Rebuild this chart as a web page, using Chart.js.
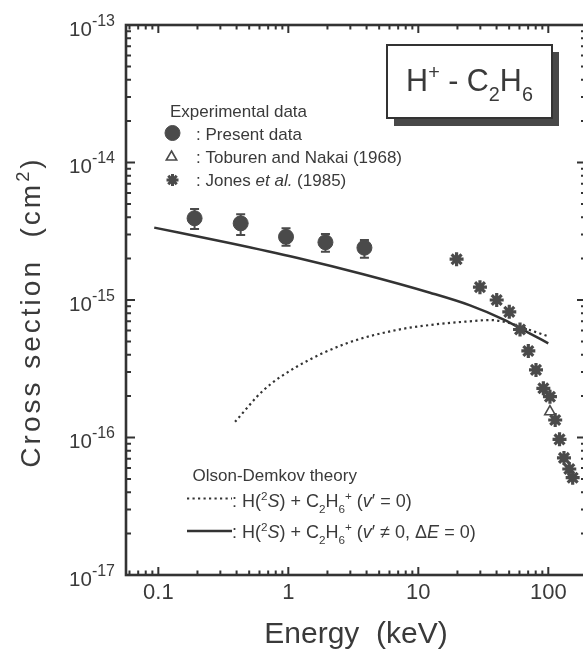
<!DOCTYPE html>
<html>
<head>
<meta charset="utf-8">
<script src="https://cdn.jsdelivr.net/npm/chart.js@4.4.1/dist/chart.umd.min.js"></script>
<style>
  html, body { margin: 0; padding: 0; background: #fff; overflow: hidden; }
  /* el marco derecho queda fuera del recorte, como en la figura escaneada */
  #wrap { position: relative; width: 583px; height: 653px; overflow: hidden; }
  canvas { display: block; position: absolute; left: 0; top: 0; }
</style>
</head>
<body>
<div id="wrap"><canvas id="c" width="590" height="653"></canvas></div>
<script>
// --- datos ---------------------------------------------------------------
// Present data (círculos con barras de error)
const presentE  = [0.19, 0.43, 0.96, 1.93, 3.85];
const presentCS = [3.93e-15, 3.61e-15, 2.88e-15, 2.63e-15, 2.40e-15];
const presentHi = [4.59e-15, 4.20e-15, 3.32e-15, 3.02e-15, 2.73e-15];
const presentLo = [3.28e-15, 2.97e-15, 2.48e-15, 2.24e-15, 2.03e-15];

// Toburen and Nakai (1968)
const toburenE  = [103];
const toburenCS = [1.54e-16];

// Jones et al. (1985)
const jonesE  = [19.7, 29.8, 40.1, 50.1, 60.6, 70.2, 80.4, 91.6, 103, 113, 122, 132, 145, 154];
const jonesCS = [1.98e-15, 1.24e-15, 1.0e-15, 8.2e-16, 6.1e-16, 4.26e-16, 3.1e-16, 2.28e-16,
                 1.98e-16, 1.34e-16, 9.7e-17, 7.1e-17, 5.9e-17, 5.1e-17];

// Olson-Demkov, v' = 0 (punteada)
const odV0E  = [0.389, 0.645, 1.16, 2.81, 6.81, 12.3, 24.9, 35.6, 50, 72, 100];
const odV0CS = [1.30e-16, 2.21e-16, 3.27e-16, 4.84e-16, 6.05e-16, 6.58e-16, 7.0e-16, 7.15e-16,
                6.8e-16, 6.05e-16, 5.45e-16];

// Olson-Demkov, v' != 0, dE = 0 (continua)
const odVnE  = [0.093, 0.36, 1.16, 3.77, 12.3, 25, 45, 70, 100];
const odVnCS = [3.36e-15, 2.59e-15, 2.03e-15, 1.54e-15, 1.13e-15, 9.14e-16, 7.23e-16, 5.8e-16, 4.84e-16];

// ejes
const xTicks = [0.1, 1, 10, 100];
const yDecades = [-17, -16, -15, -14, -13];
const xMin = 0.0564, xMax = 195;
const yMin = 1e-17, yMax = 1e-13;

// --- estilo ----------------------------------------------------------------
const FAM = '"Liberation Sans", Arial, sans-serif';
const TXT = '#3a3a3a';
const INK = '#333';
const MARK = '#4a4a4a';
const DOTS = [2.2, 3.3];

const pts = (xs, ys) => xs.map((x, i) => ({ x, y: ys[i] }));
const fuente = (size, italic) => `${italic ? 'italic ' : ''}${size}px ${FAM}`;

// Texto con sub/superíndices: parts = [[texto, modo]], modo con 'sup' | 'sub' | 'i'
function textoRico(ctx, x, y, parts, size, align = 'left') {
  const piezas = parts.map(([t, m = '']) => {
    const small = m.includes('sup') || m.includes('sub');
    const s = small ? size * 0.65 : size;
    const dy = m.includes('sup') ? -size * 0.4 : m.includes('sub') ? size * 0.32 : 0;
    const f = fuente(s, m.includes('i'));
    ctx.font = f;
    return { t, f, dy, w: ctx.measureText(t).width };
  });
  const total = piezas.reduce((s, p) => s + p.w, 0);
  let cx = align === 'center' ? x - total / 2 : align === 'right' ? x - total : x;
  ctx.textAlign = 'left';
  ctx.textBaseline = 'alphabetic';
  for (const p of piezas) { ctx.font = p.f; ctx.fillText(p.t, cx, y + p.dy); cx += p.w; }
  return total;
}

// Posiciones log: múltiplos 1..9 de cada década dentro del rango
function marcasLog(min, max) {
  const out = [];
  for (let d = Math.floor(Math.log10(min)); d <= Math.ceil(Math.log10(max)); d++) {
    for (let m = 1; m <= 9; m++) {
      const v = m * Math.pow(10, d);
      if (v >= min * 0.999 && v <= max * 1.001) out.push({ v, major: m === 1 });
    }
  }
  return out;
}

function marcador(ctx, style, r, x, y, fill, bw) {
  ctx.save();
  ctx.fillStyle = fill;
  ctx.strokeStyle = MARK;
  ctx.lineWidth = bw;
  Chart.helpers.drawPoint(ctx, { pointStyle: style, radius: r, rotation: 0, borderWidth: bw }, x, y);
  ctx.restore();
}

// --- plugin: marco, ticks interiores, etiquetas, leyendas -----------------
const marco = {
  id: 'marco',
  beforeDatasetsDraw(chart) {
    const { ctx, chartArea: a, scales: { x, y } } = chart;
    ctx.save();
    // marco
    ctx.strokeStyle = INK;
    ctx.lineWidth = 2.6;
    ctx.strokeRect(a.left, a.top, a.right - a.left, a.bottom - a.top);
    // ticks hacia adentro
    ctx.lineWidth = 2;
    ctx.beginPath();
    for (const t of marcasLog(xMin, xMax)) {
      const px = x.getPixelForValue(t.v);
      const len = t.major ? 8 : 4.5;
      ctx.moveTo(px, a.bottom); ctx.lineTo(px, a.bottom - len);
      ctx.moveTo(px, a.top); ctx.lineTo(px, a.top + len);
    }
    for (const t of marcasLog(yMin, yMax)) {
      const py = y.getPixelForValue(t.v);
      const len = t.major ? 9 : 5;
      ctx.moveTo(a.left, py); ctx.lineTo(a.left + len, py);
      ctx.moveTo(a.right, py); ctx.lineTo(a.right - len, py);
    }
    ctx.stroke();

    // barras de error
    ctx.strokeStyle = MARK;
    ctx.lineWidth = 2;
    ctx.beginPath();
    presentE.forEach((e, i) => {
      const px = x.getPixelForValue(e);
      const y1 = y.getPixelForValue(presentHi[i]);
      const y2 = y.getPixelForValue(presentLo[i]);
      ctx.moveTo(px, y1); ctx.lineTo(px, y2);
      ctx.moveTo(px - 4.5, y1); ctx.lineTo(px + 4.5, y1);
      ctx.moveTo(px - 4.5, y2); ctx.lineTo(px + 4.5, y2);
    });
    ctx.stroke();

    // etiquetas del eje Y: 10^n
    ctx.fillStyle = TXT;
    for (const e of yDecades) {
      const py = y.getPixelForValue(Math.pow(10, e));
      ctx.font = fuente(16);
      ctx.textAlign = 'right';
      ctx.textBaseline = 'alphabetic';
      const exp = '-' + Math.abs(e);
      const w = ctx.measureText(exp).width;
      ctx.fillText(exp, 115, py + 0.5);
      ctx.font = fuente(20.5);
      ctx.fillText('10', 115 - w, py + 10.5);
    }

    // título del eje Y
    ctx.save();
    ctx.translate(40, 312);
    ctx.rotate(-Math.PI / 2);
    ctx.letterSpacing = '3px';
    textoRico(ctx, 0, 0, [['Cross section  (cm'], ['2', 'sup'], [')']], 28, 'center');
    ctx.restore();
    ctx.restore();
  },
  afterDraw(chart) {
    const { ctx } = chart;
    ctx.save();

    // recuadro H+ - C2H6 con sombra
    ctx.fillStyle = '#484848';
    ctx.fillRect(394, 52, 165, 74);
    ctx.fillStyle = '#fff';
    ctx.fillRect(387, 45, 165, 73);
    ctx.strokeStyle = INK;
    ctx.lineWidth = 2;
    ctx.strokeRect(387, 45, 165, 73);
    ctx.fillStyle = TXT;
    textoRico(ctx, 469.5, 91, [['H'], ['+', 'sup'], [' - C'], ['2', 'sub'], ['H'], ['6', 'sub']], 30.5, 'center');

    // leyenda de datos experimentales
    textoRico(ctx, 170, 116.5, [['Experimental data']], 17);
    textoRico(ctx, 196, 140, [[': Present data']], 17);
    textoRico(ctx, 196, 162.5, [[': Toburen and Nakai (1968)']], 17);
    textoRico(ctx, 196, 186, [[': Jones '], ['et al.', 'i'], [' (1985)']], 17);
    marcador(ctx, 'circle', 7.5, 172.5, 133, MARK, 1);
    marcador(ctx, 'triangle', 6, 171.5, 157, 'rgba(0,0,0,0)', 1.6);
    marcador(ctx, 'star', 6, 172.5, 180, MARK, 3);

    // leyenda de la teoría
    ctx.fillStyle = TXT;
    textoRico(ctx, 192.5, 481, [['Olson-Demkov theory']], 17);
    textoRico(ctx, 232, 507, [[': H('], ['2', 'sup'], ['S', 'i'], [') + C'], ['2', 'sub'], ['H'], ['6', 'sub'],
      ['+', 'sup'], [' ('], ['v', 'i'], ['\u2032 = 0)']], 18);
    textoRico(ctx, 232, 538, [[': H('], ['2', 'sup'], ['S', 'i'], [') + C'], ['2', 'sub'], ['H'], ['6', 'sub'],
      ['+', 'sup'], [' ('], ['v', 'i'], ['\u2032 \u2260 0, \u0394'], ['E', 'i'], [' = 0)']], 18);
    ctx.strokeStyle = INK;
    ctx.lineWidth = 2.2;
    ctx.setLineDash(DOTS);
    ctx.beginPath(); ctx.moveTo(187, 498.5); ctx.lineTo(232, 498.5); ctx.stroke();
    ctx.setLineDash([]);
    ctx.lineWidth = 2.5;
    ctx.beginPath(); ctx.moveTo(187, 531); ctx.lineTo(232, 531); ctx.stroke();
    ctx.restore();
  },
};

new Chart(document.getElementById('c'), {
  type: 'scatter',
  data: {
    datasets: [
      { label: 'Present data', data: pts(presentE, presentCS), pointStyle: 'circle', pointRadius: 7.5,
        backgroundColor: MARK, borderColor: MARK, borderWidth: 1 },
      { label: 'Toburen and Nakai (1968)', data: pts(toburenE, toburenCS), pointStyle: 'triangle', pointRadius: 6,
        backgroundColor: 'rgba(0,0,0,0)', borderColor: MARK, borderWidth: 1.6 },
      { label: 'Jones et al. (1985)', data: pts(jonesE, jonesCS), pointStyle: 'star', pointRadius: 7,
        backgroundColor: MARK, borderColor: MARK, borderWidth: 3.2 },
      { label: "v' = 0", data: pts(odV0E, odV0CS), showLine: true, pointRadius: 0, borderColor: INK,
        borderWidth: 2.2, borderDash: DOTS, cubicInterpolationMode: 'monotone' },
      { label: "v' != 0", data: pts(odVnE, odVnCS), showLine: true, pointRadius: 0, borderColor: INK,
        borderWidth: 2.5, cubicInterpolationMode: 'monotone' },
    ],
  },
  options: {
    responsive: false,
    animation: false,
    devicePixelRatio: 1,
    // sin autoPadding: el área de datos va exactamente de x=126 a x=586
    layout: { autoPadding: false, padding: { top: 25, right: 4, left: 0, bottom: 0 } },
    plugins: { legend: { display: false }, tooltip: { enabled: false } },
    scales: {
      x: {
        type: 'logarithmic', min: xMin, max: xMax,
        grid: { display: false, drawTicks: false }, border: { display: false },
        afterBuildTicks: (s) => { s.ticks = xTicks.map((v) => ({ value: v })); },
        afterFit: (s) => { s.height = 78; s.paddingLeft = 0; s.paddingRight = 0; },
        ticks: { autoSkip: false, maxRotation: 0, padding: 5, color: TXT,
          font: { family: FAM, size: 22 }, callback: (v) => String(v) },
        title: { display: true, text: 'Energy  (keV)', color: TXT,
          font: { family: FAM, size: 30 }, padding: { top: 0, bottom: 0 } },
      },
      y: {
        type: 'logarithmic', min: yMin, max: yMax,
        grid: { display: false, drawTicks: false }, border: { display: false },
        ticks: { display: false },
        afterFit: (s) => { s.width = 126; },
      },
    },
  },
  plugins: [marco],
});
</script>
</body>
</html>
